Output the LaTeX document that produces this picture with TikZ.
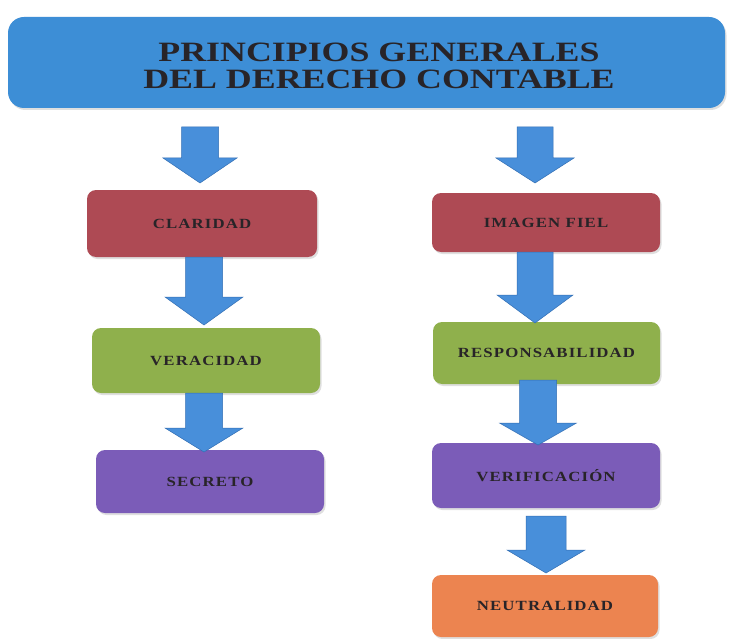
\documentclass[tikz,border=0pt]{standalone}
\usepackage{fontspec}
\setmainfont{Liberation Serif}
\newfontfamily\titlefont{Liberation Serif}[FakeStretch=1.28]
\newfontfamily\boxfont{Liberation Serif}[FakeStretch=1.2,LetterSpace=8]
\usetikzlibrary{shadows}
\definecolor{titleblue}{RGB}{61,142,214}
\definecolor{arrowblue}{RGB}{72,143,218}
\definecolor{arrowline}{RGB}{50,110,180}
\definecolor{boxred}{RGB}{174,74,84}
\definecolor{boxgreen}{RGB}{143,176,76}
\definecolor{boxpurple}{RGB}{123,92,184}
\definecolor{boxorange}{RGB}{236,132,80}
\definecolor{inktext}{RGB}{40,36,40}
\tikzset{
  stepbox/.style={rounded corners=9pt, draw=none, text=inktext,
    font=\boxfont\bfseries\fontsize{14}{16}\selectfont,
    drop shadow={opacity=0.25, shadow xshift=1.5pt, shadow yshift=-2pt}},
  titleline/.style={text=inktext, inner sep=0pt, anchor=base,
    font=\titlefont\bfseries\fontsize{28}{30}\selectfont},
  blockarrow/.style={fill=arrowblue, draw=arrowline, line width=0.5pt, line join=miter}
}
% \barrow{name}{cx}{top}{headbase}{tip}{halfshaft}{halfhead}
\newcommand{\barrow}[7]{%
  \draw[blockarrow] (#2-#6,#3) -- (#2+#6,#3) -- (#2+#6,#4) -- (#2+#7,#4)
    -- (#2,#5) coordinate (#1) -- (#2-#7,#4) -- (#2-#6,#4) -- cycle;}
\begin{document}
\begin{tikzpicture}[x=1pt,y=-1pt]
\useasboundingbox (0,0) rectangle (730,639);
\fill[white] (0,0) rectangle (730,639);
% title
\node[rounded corners=16pt, fill=titleblue, minimum width=717pt, minimum height=91pt,
  drop shadow={opacity=0.25, shadow xshift=1.5pt, shadow yshift=-2pt}] (title) at (366.5,62.5) {};
\node[titleline] (titleA) at (379,62) {PRINCIPIOS GENERALES};
\node[titleline] (titleB) at (379,89) {DEL DERECHO CONTABLE};
% left column
\node[stepbox, fill=boxred, minimum width=230pt, minimum height=67pt] (clar) at (202,223.5) {CLARIDAD};
\node[stepbox, fill=boxgreen, minimum width=228pt, minimum height=65pt] (vera) at (206,360.5) {VERACIDAD};
\node[stepbox, fill=boxpurple, minimum width=228pt, minimum height=63pt] (secr) at (210,481.5) {SECRETO};
% right column
\node[stepbox, fill=boxred, minimum width=228pt, minimum height=59pt] (imag) at (546,222.5) {IMAGEN FIEL};
\node[stepbox, fill=boxgreen, minimum width=227pt, minimum height=62pt] (resp) at (546.5,353) {RESPONSABILIDAD};
\node[stepbox, fill=boxpurple, minimum width=228pt, minimum height=65pt] (veri) at (546,475.5) {VERIFICACIÓN};
\node[stepbox, fill=boxorange, minimum width=226pt, minimum height=62pt] (neut) at (545,606) {NEUTRALIDAD};
% arrows
\barrow{a1}{200}{127}{158}{183}{18.5}{37}
\barrow{a2}{204}{257}{297}{325}{18.5}{39}
\barrow{a3}{204}{393}{428}{452}{18.5}{39}
\barrow{b1}{535}{127}{158}{183}{18}{39}
\barrow{b2}{535}{252}{295}{323}{18}{38}
\barrow{b3}{538}{380}{423}{445}{18.5}{38.5}
\barrow{b4}{546}{516}{550}{573}{20}{39}
\end{tikzpicture}
\end{document}
